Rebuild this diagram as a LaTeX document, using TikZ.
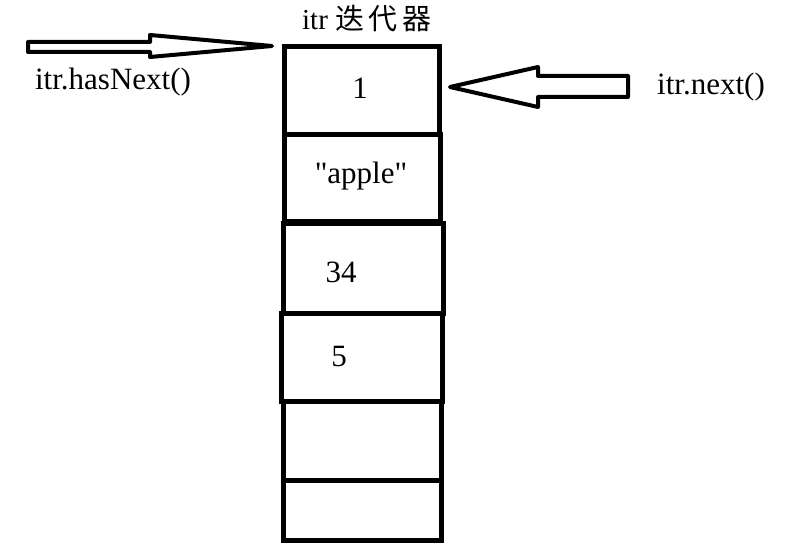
\documentclass[tikz,border=0pt]{standalone}
\usepackage{fontspec}
\setmainfont{Liberation Serif}[Ligatures=TeXOff]
\newfontfamily\cjkfont{Noto Sans CJK SC}
\usetikzlibrary{positioning}

\begin{document}
\begin{tikzpicture}[
  x=1pt, y=-1pt,
  every node/.append style={
    inner sep=0pt,
    font=\fontsize{31}{35}\selectfont
  },
  cell node/.style={draw, line width=5pt, outer sep=0pt},
  hollow arrow/.style={draw, line width=4pt, line join=round, fill=white}
]
\useasboundingbox (0,0) rectangle (809,553);

\begin{scope}[every node/.append style={cell node}]
  \node[minimum width=155pt, minimum height=88pt] (cell1) at (361.5,91) {};
  \node[minimum width=156pt, minimum height=87pt] (cell2) at (362,178.5) {};
  \node[minimum width=160pt, minimum height=90pt] (cell3) at (363,269) {};
  \node[minimum width=161pt, minimum height=88pt] (cell4) at (361.5,358) {};
  \node[minimum width=158pt, minimum height=78pt] (cell5) at (362,441) {};
  \node[minimum width=158pt, minimum height=60pt] (cell6) at (362,510) {};
\end{scope}

\node (val1) at ([xshift=-1.5pt,yshift=3pt]cell1) {1};
\node (val2) at ([xshift=-1pt,yshift=2.5pt]cell2) {"apple"};
\node (val3) at ([xshift=-22pt,yshift=-3pt]cell3) {34};
\node (val4) at ([xshift=-22.5pt,yshift=1pt]cell4) {5};

\node[font=\fontsize{29}{33}\selectfont] (title) at (367,19) {itr\ {\cjkfont 迭\,代\,器}};
\node (hasnext) at (113,82) {itr.hasNext()};
\node (next) at (711,87) {itr.next()};

\coordinate (hasnext tip) at ([shift={(-12,-1)}]cell1.north west);
\coordinate (next tip) at ([shift={(11,-4)}]cell1.east);

\draw[hollow arrow] (hasnext tip) -- ++(-122,-11) -- ++(0,7) -- ++(-122,0)
  -- ++(0,10) -- ++(122,0) -- ++(0,5) -- cycle;
\draw[hollow arrow] (next tip) -- ++(88,-20) -- ++(0,9) -- ++(90,0)
  -- ++(0,21) -- ++(-90,0) -- ++(0,10) -- cycle;
\end{tikzpicture}
\end{document}
